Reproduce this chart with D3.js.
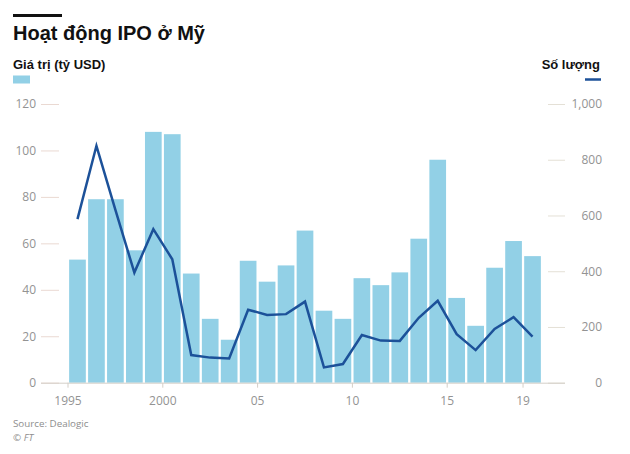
<!DOCTYPE html>
<html><head><meta charset="utf-8">
<script src="https://cdn.jsdelivr.net/npm/d3@7"></script>
<style>body{margin:0;background:#fff}svg{display:block}</style>
</head><body>
<script>
const years = d3.range(1995, 2020);
const valueBn = [53, 79, 79, 57, 108, 107, 47, 27.5, 18.5, 52.5, 43.5, 50.5, 65.5, 31, 27.5, 45, 42, 47.5, 62, 96, 36.5, 24.5, 49.5, 61, 54.5];
const ipoCount = [587, 850, 620, 395, 551, 443, 99, 90, 87, 262, 243, 246, 291, 55, 67, 171, 151, 150, 233, 294, 174, 117, 193, 235, 165];
const leftTicks = [0, 20, 40, 60, 80, 100, 120];
const rightTicks = [0, 200, 400, 600, 800, 1000];
const xTickYears = [1995, 2000, 2005, 2010, 2015, 2019];
const xTickLabels = ["1995", "2000", "05", "10", "15", "19"];

const W = 630, H = 454;
const svg = d3.select("body").append("svg").attr("width", W).attr("height", H);
const font = "'Open Sans', sans-serif";
const tickColor = "#939393";

const x = d3.scaleBand().domain(years).range([68, 542]).paddingInner(0.12).paddingOuter(0.06);
const yL = d3.scaleLinear().domain([0, 120]).range([382.7, 104]);
const yR = d3.scaleLinear().domain([0, 1000]).range([382.7, 104]);

// top rule and title
svg.append("rect").attr("x", 13).attr("y", 14).attr("width", 49).attr("height", 3).attr("fill", "#111");
svg.append("text").attr("x", 13).attr("y", 40).text("Hoạt động IPO ở Mỹ")
  .attr("font-family", "'Liberation Sans', Arial, sans-serif").attr("font-weight", "bold")
  .attr("font-size", 20).attr("fill", "#111");

// legends
svg.append("text").attr("x", 13).attr("y", 69).text("Giá trị (tỷ USD)")
  .attr("font-family", "'Liberation Sans', Arial, sans-serif").attr("font-weight", "bold")
  .attr("font-size", 13).attr("fill", "#111");
svg.append("rect").attr("x", 13).attr("y", 75.5).attr("width", 17).attr("height", 8).attr("fill", "#92d0e6");
svg.append("text").attr("x", 600).attr("y", 69).attr("text-anchor", "end").text("Số lượng")
  .attr("font-family", "'Liberation Sans', Arial, sans-serif").attr("font-weight", "bold")
  .attr("font-size", 13).attr("fill", "#111");
svg.append("line").attr("x1", 585).attr("x2", 601).attr("y1", 79.5).attr("y2", 79.5)
  .attr("stroke", "#1c5199").attr("stroke-width", 2.5);

// left axis
const gL = svg.append("g").attr("transform", "translate(59,0)")
  .call(d3.axisLeft(yL).tickValues(leftTicks).tickSize(18).tickPadding(5).tickFormat(d3.format(",")));
gL.select(".domain").remove();
gL.selectAll(".tick line").attr("stroke", "#ead9d2").attr("stroke-width", 1);
gL.selectAll(".tick text").attr("font-family", font).attr("font-size", 12).attr("fill", tickColor);

// right axis
const gR = svg.append("g").attr("transform", "translate(548,0)")
  .call(d3.axisRight(yR).tickValues(rightTicks).tickSize(17).tickPadding(0).tickFormat(d3.format(",")));
gR.select(".domain").remove();
gR.selectAll(".tick line").attr("stroke", "#e4e0d6").attr("stroke-width", 1);
gR.selectAll(".tick text").attr("font-family", font).attr("font-size", 12).attr("fill", tickColor)
  .attr("text-anchor", "end").attr("x", 54);

// bars
svg.append("g").selectAll("rect").data(years).join("rect")
  .attr("x", d => x(d)).attr("width", x.bandwidth())
  .attr("y", (d, i) => yL(valueBn[i])).attr("height", (d, i) => yL(0) - yL(valueBn[i]))
  .attr("fill", "#92d0e6");

// baseline
svg.append("line").attr("x1", 41).attr("x2", 565).attr("y1", yL(0) + 0.5).attr("y2", yL(0) + 0.5)
  .attr("stroke", "#d4cfc8").attr("stroke-width", 1);

// x axis
const gap = (x.step() - x.bandwidth()) / 2;
const xt = svg.append("g").selectAll("g").data(xTickYears).join("g")
  .attr("transform", d => `translate(${x(d) - gap},${yL(0)})`);
xt.append("line").attr("y1", 0).attr("y2", 5).attr("stroke", "#d4cfc8");
xt.append("text").attr("y", 22).attr("text-anchor", "middle")
  .text((d, i) => xTickLabels[i])
  .attr("font-family", font).attr("font-size", 12).attr("fill", tickColor);

// line
const line = d3.line().x((d, i) => x(years[i]) + x.bandwidth() / 2).y(d => yR(d));
svg.append("path").datum(ipoCount).attr("d", line).attr("fill", "none")
  .attr("stroke", "#1c5199").attr("stroke-width", 2.5).attr("stroke-linejoin", "miter");

// source
svg.append("text").attr("x", 13).attr("y", 427).text("Source: Dealogic")
  .attr("font-family", font).attr("font-size", 9.8).attr("fill", "#8e8e8e");
svg.append("text").attr("x", 13).attr("y", 441).text("© FT").attr("font-style", "italic")
  .attr("font-family", font).attr("font-size", 9.8).attr("fill", "#8e8e8e");
</script>
</body></html>
